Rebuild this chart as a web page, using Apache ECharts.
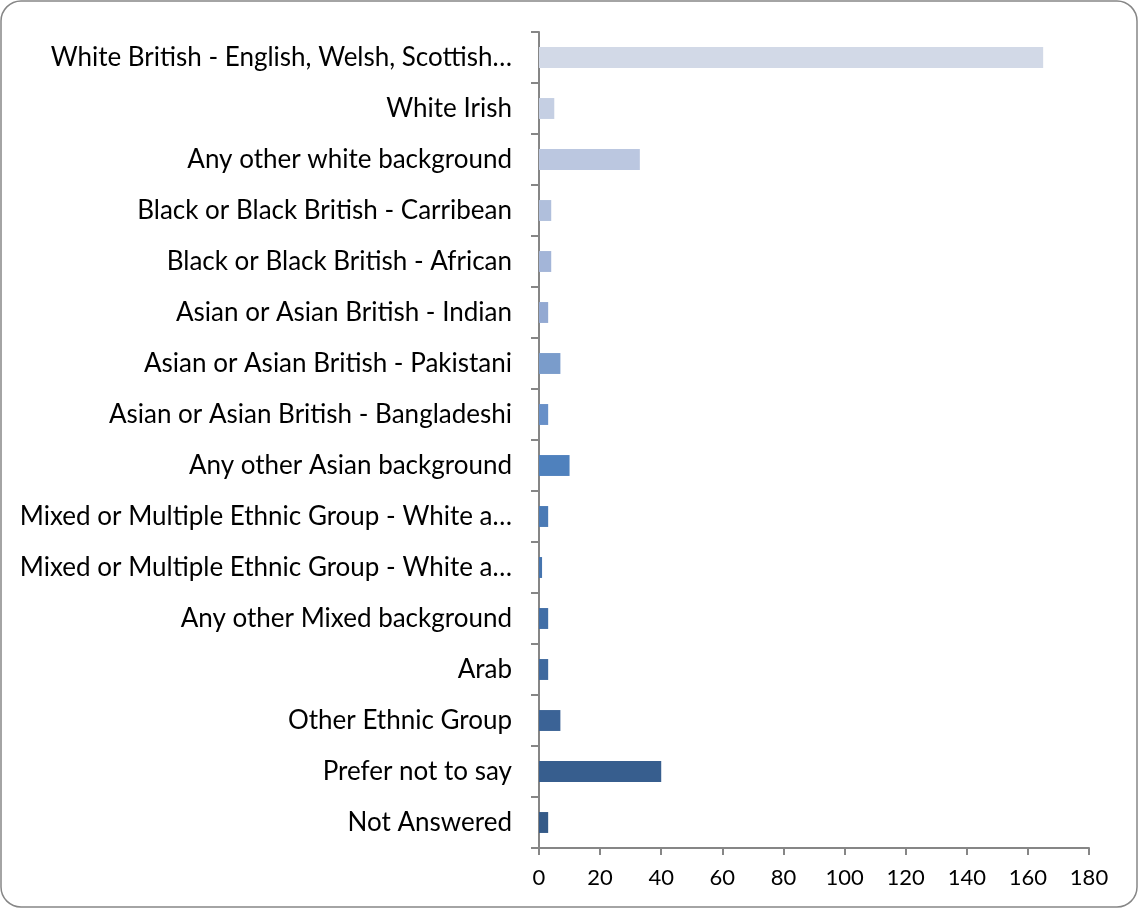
<!DOCTYPE html>
<html>
<head>
<meta charset="utf-8">
<script src="https://cdn.jsdelivr.net/npm/echarts@6/dist/echarts.min.js"></script>
<style>
html,body{margin:0;padding:0;background:#fff;}
#c{width:1138px;height:908px;}
</style>
</head>
<body>
<div id="c"></div>
<script>
const categories = [
  "White British - English, Welsh, Scottish…",
  "White Irish",
  "Any other white background",
  "Black or Black British - Carribean",
  "Black or Black British - African",
  "Asian or Asian British - Indian",
  "Asian or Asian British - Pakistani",
  "Asian or Asian British - Bangladeshi",
  "Any other Asian background",
  "Mixed or Multiple Ethnic Group - White a…",
  "Mixed or Multiple Ethnic Group - White a…",
  "Any other Mixed background",
  "Arab",
  "Other Ethnic Group",
  "Prefer not to say",
  "Not Answered"
];
const values = [165, 5, 33, 4, 4, 3, 7, 3, 10, 3, 1, 3, 3, 7, 40, 3];
const barColors = [
  "#D2D9E7", "#C5CFE3", "#BBC7E0", "#B0BFDC", "#A3B5D8", "#93A9D2",
  "#7A9CCB", "#6890C8", "#4F81BD", "#4A7AB5", "#4574AE", "#416EA6",
  "#3F699E", "#3B6396", "#375E8E", "#345A88"
];
const xTicks = { min: 0, max: 180, interval: 20 };

const chart = echarts.init(document.getElementById('c'), null, {renderer: 'canvas'});
const font = 'Lato, "Open Sans", sans-serif';
chart.setOption({
  animation: false,
  backgroundColor: '#fff',
  graphic: [{
    type: 'rect',
    shape: {x: 1, y: 1, width: 1136, height: 906, r: 20},
    style: {fill: 'none', stroke: '#868686', lineWidth: 1.5},
    silent: true
  }],
  grid: {left: 539, right: 49, top: 32, bottom: 60, containLabel: false},
  xAxis: {
    type: 'value',
    min: xTicks.min, max: xTicks.max, interval: xTicks.interval,
    axisLine: {show: true, lineStyle: {color: '#868686', width: 2}},
    axisTick: {show: true, length: 7, lineStyle: {color: '#868686', width: 2}},
    splitLine: {show: false},
    axisLabel: {color: '#000', fontSize: 22, fontFamily: font, margin: 19}
  },
  yAxis: {
    type: 'category',
    inverse: true,
    data: categories,
    axisLine: {show: true, lineStyle: {color: '#868686', width: 2}},
    axisTick: {show: true, length: 8, lineStyle: {color: '#868686', width: 2}},
    axisLabel: {color: '#000', fontSize: 26, fontFamily: font, margin: 27}
  },
  series: [{
    type: 'bar',
    data: values.map((v, i) => ({value: v, itemStyle: {color: barColors[i]}})),
    barCategoryGap: '59%'
  }]
});
</script>
</body>
</html>
